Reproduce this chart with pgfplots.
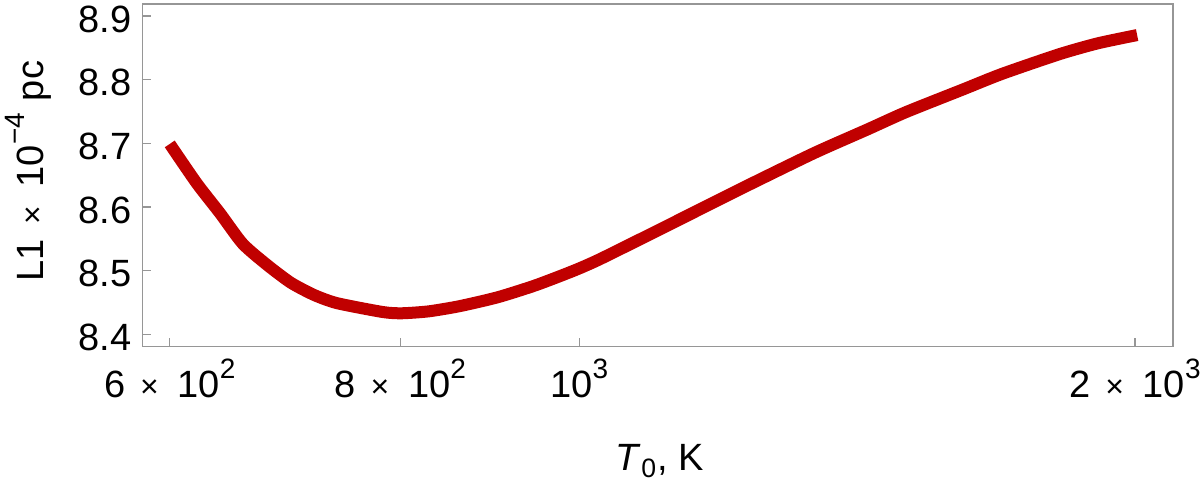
\documentclass[border=0pt]{standalone}
\usepackage{fontspec}
\setmainfont{Liberation Sans}
\usepackage{pgfplots}
\pgfplotsset{compat=1.18}

\definecolor{curvered}{RGB}{192,0,0}
\definecolor{framegray}{RGB}{150,150,150}
\newcommand\fs{\fontsize{19}{22}\selectfont}
% small multiplication sign and superscript, Mathematica style
\newcommand\tms{\hspace{7.4pt}\raisebox{0.3pt}{\fontsize{16}{16}\selectfont ×}\hspace{9.4pt}}
\newcommand\sups[1]{\raisebox{9.5pt}{\fontsize{14}{14}\selectfont #1}}

\pgfplotstableread{
T     L
600   8.699
620.6 8.637
638.9 8.590
657.3 8.542
678.1 8.508
697.9 8.481
718.1 8.462
739   8.449
782.6 8.435
801.4 8.433
828.6 8.436
860.7 8.444
902.8 8.458
947   8.477
993.3 8.500
1026  8.518
1102.6 8.563
1184  8.608
1242  8.638
1341  8.685
1433  8.722
1503  8.749
1615  8.785
1694  8.809
1820  8.840
1909  8.857
2005  8.870
}\curve

\begin{document}
\begin{tikzpicture}
\begin{axis}[
    scale only axis,
    width=515.25pt, height=171.35pt,
    xmode=log, log basis x=10,
    xmin=580, xmax=2097,
    ymin=8.3805, ymax=8.9188,
    xtick={600,800,1000,2000},
    xticklabels={6\tms10\sups{2}, 8\tms10\sups{2},
                 10\sups{3}, 2\tms10\sups{3}},
    minor xtick={},
    ytick={8.4,8.5,8.6,8.7,8.8,8.9},
    yticklabel style={/pgf/number format/fixed, /pgf/number format/fixed zerofill,
        /pgf/number format/precision=1, /pgf/number format/assume math mode=true},
    tick pos=left, tick align=inside,
    major tick length=4.5pt,
    axis line style={framegray, line width=0.7pt},
    tick style={framegray, line width=0.7pt},
    tick label style={font=\fs, text=black},
    xticklabel style={anchor=base, yshift=-25.65pt},
    yticklabel style={anchor=east, inner sep=0pt, xshift=-5.25pt, yshift=-1.5pt},
    label style={font=\fs},
    xlabel={\textit{T}\textsubscript{0}, K},
    xlabel style={at={(axis description cs:0.5,0)}, anchor=base, yshift=-62pt, xshift=1pt},
    ylabel={L1\tms10\sups{−4}\hspace{6pt}pc},
    ylabel style={at={(axis description cs:0,0.5)}, anchor=center, yshift=57pt, xshift=2pt},
]
\addplot[curvered, line width=6pt, line join=round, smooth, tension=0.4] table[x=T, y=L] {\curve};
\end{axis}
\pgfresetboundingbox
\path[use as bounding box] (current axis.south west) ++(-71.25pt,-67.65pt) rectangle ++(600pt,241pt);
\end{tikzpicture}
\end{document}
